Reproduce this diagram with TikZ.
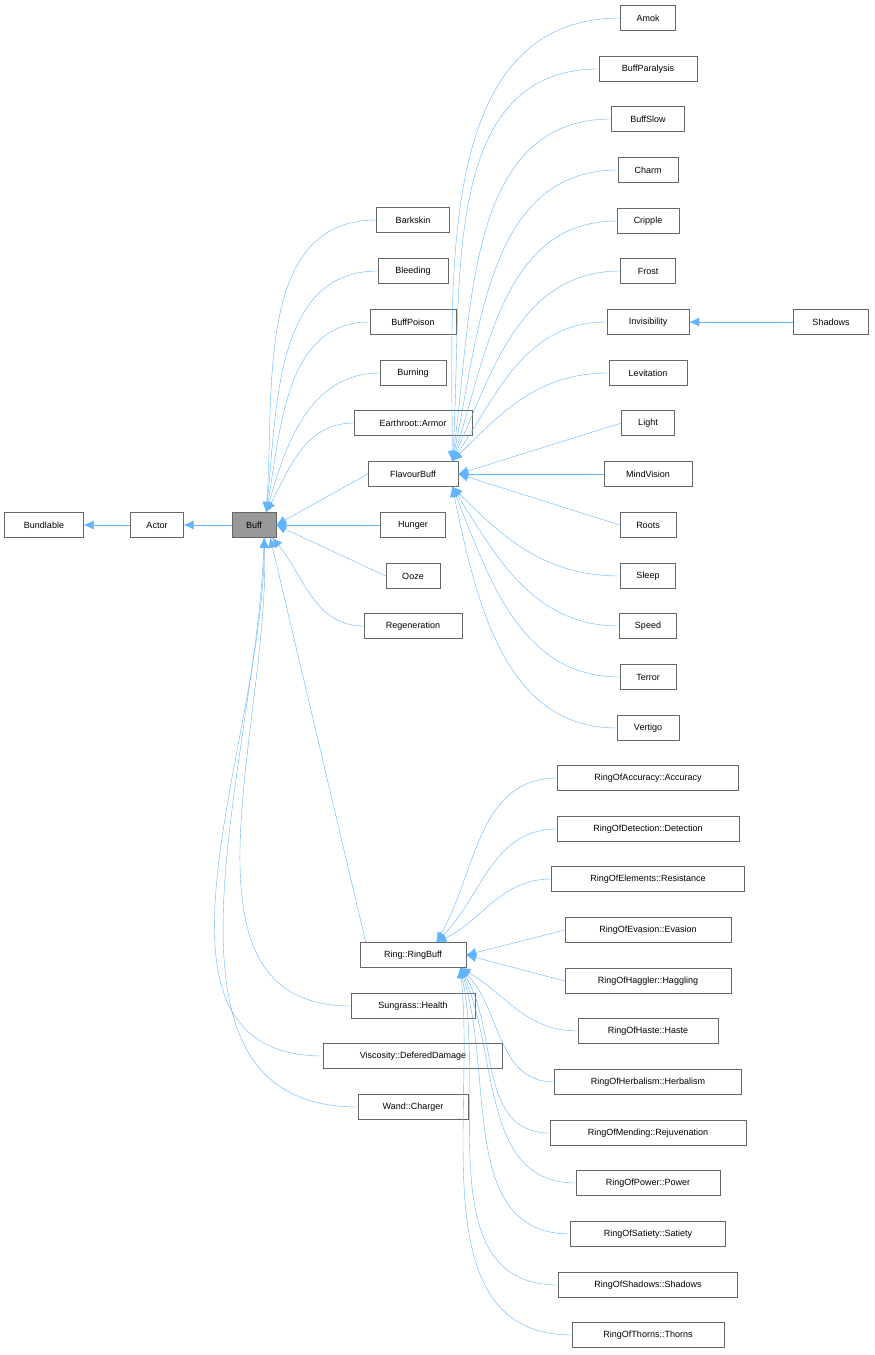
\documentclass[tikz,border=0pt]{standalone}
\usepackage{fontspec}
\setmainfont{Liberation Sans}
\usetikzlibrary{arrows.meta}
\usetikzlibrary{positioning}
\definecolor{edgeblue}{RGB}{99,180,255}
\definecolor{boxgray}{RGB}{102,102,102}
\begin{document}
\begin{tikzpicture}
      [x=1pt,y=-1pt,
       cls/.style={rectangle,draw=boxgray,fill=white,minimum height=25pt,inner sep=2pt,font=\fontsize{9}{10}\selectfont},
       edge/.style={draw=edgeblue,-{Latex[length=10pt,width=9pt,fill=edgeblue]}}]
      \useasboundingbox (0,0) rectangle (875,1355);
      % place nodes
      \node[cls,minimum width=79pt] (bundlable) at (44,525) {Bundlable};
      \node[cls,minimum width=53pt] (actor) at (157,525) {Actor};
      \node[cls,minimum width=44pt,fill=gray!80] (buff) at (254,525) {Buff};
      \foreach \nm/\y/\w/\txt in {barkskin/220/73/Barkskin,bleeding/271/70/Bleeding,buffpoison/322/86/BuffPoison,
          burning/373/66/Burning,armor/423/118/Earthroot::Armor,flavour/474/90/FlavourBuff,hunger/525/65/Hunger,
          ooze/576/54/Ooze,regen/626/98/Regeneration,ringbuff/955/106/Ring::RingBuff,health/1006/124/Sungrass::Health,
          defered/1056/179/Viscosity::DeferedDamage,charger/1107/110/Wand::Charger}
        \node[cls,minimum width=\w] (\nm) at (413,\y) {\txt};
      \foreach \nm/\y/\w/\txt in {amok/18/55/Amok,paralysis/69/98/BuffParalysis,slow/119/73/BuffSlow,charm/170/60/Charm,
          cripple/221/62/Cripple,frost/271/55/Frost,invis/322/82/Invisibility,levit/373/78/Levitation,light/423/53/Light,
          mind/474/88/MindVision,roots/525/56/Roots,sleep/576/55/Sleep,speed/626/57/Speed,terror/677/56/Terror,
          vertigo/728/62/Vertigo}
        \node[cls,minimum width=\w] (\nm) at (648,\y) {\txt};
      \node[cls,minimum width=75pt] (shadows) at (831,322) {Shadows};
      \foreach \nm/\y/\w/\txt in {accuracy/778/181/RingOfAccuracy::Accuracy,detection/829/182/RingOfDetection::Detection,
          resist/879/193/RingOfElements::Resistance,evasion/930/166/RingOfEvasion::Evasion,
          haggling/981/166/RingOfHaggler::Haggling,haste/1031/140/RingOfHaste::Haste,
          herbal/1082/187/RingOfHerbalism::Herbalism,rejuv/1133/196/RingOfMending::Rejuvenation,
          power/1183/144/RingOfPower::Power,satiety/1234/155/RingOfSatiety::Satiety,
          rshadows/1285/179/RingOfShadows::Shadows,thorns/1335/152/RingOfThorns::Thorns}
        \node[cls,minimum width=\w] (\nm) at (648,\y) {\txt};
      % add edges
      \draw[edge] (actor) -- (bundlable);
      \draw[edge] (buff) -- (actor);
      \draw[edge] (shadows) -- (invis);
      \foreach \nm/\ang in {barkskin/86,bleeding/84,buffpoison/80,burning/74,armor/62}
        \draw[edge] (\nm.west) to[out=180,in=\ang] ([xshift=-10pt]buff.north east);
      \foreach \nm in {flavour,hunger,ooze}
        \draw[edge] (\nm.west) -- (buff.east);
      \draw[edge] (regen.west) to[out=180,in=-50] ([xshift=-4pt]buff.south east);
      \draw[edge] ([xshift=6pt]ringbuff.north west) -- ([xshift=-6pt]buff.south east);
      \foreach \nm/\ang in {health/-88,defered/-90,charger/-92}
        \draw[edge] (\nm.west) to[out=180,in=\ang] ([xshift=-12pt]buff.south east);
      \foreach \nm/\ang in {amok/90,paralysis/86,slow/82,charm/78,cripple/72,frost/66,invis/56,levit/45}
        \draw[edge] (\nm.west) to[out=180,in=\ang] ([xshift=-6pt]flavour.north east);
      \foreach \nm in {light,mind,roots}
        \draw[edge] (\nm.west) -- (flavour.east);
      \foreach \nm/\ang in {sleep/-45,speed/-58,terror/-68,vertigo/-78}
        \draw[edge] (\nm.west) to[out=180,in=\ang] ([xshift=-6pt]flavour.south east);
      \foreach \nm/\ang in {accuracy/60,detection/45,resist/25}
        \draw[edge] (\nm.west) to[out=180,in=\ang] ([xshift=-30pt]ringbuff.north east);
      \foreach \nm in {evasion,haggling}
        \draw[edge] (\nm.west) -- (ringbuff.east);
      \foreach \nm/\ang in {haste/-30,herbal/-45,rejuv/-58,power/-66,satiety/-72,rshadows/-78,thorns/-84}
        \draw[edge] (\nm.west) to[out=180,in=\ang] ([xshift=-6pt]ringbuff.south east);
    \end{tikzpicture}
\end{document}
